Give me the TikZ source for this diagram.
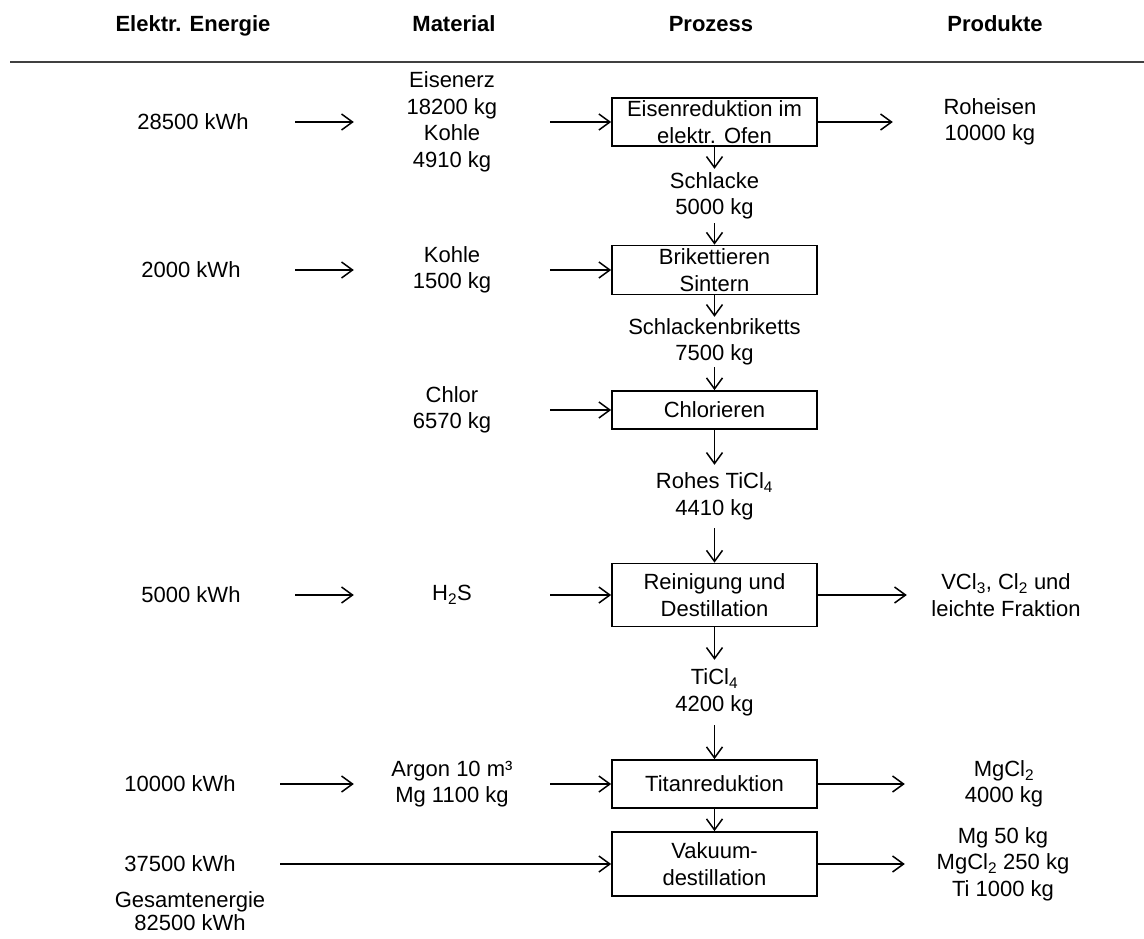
\documentclass[tikz,border=0pt]{standalone}
\usepackage{fontspec}
\setmainfont{Liberation Sans}
\usetikzlibrary{arrows.meta}
\newcommand\lsub[1]{\textsubscript{#1}}
\begin{document}
\begin{tikzpicture}[x=1pt,y=-1pt,
  txt/.style={font=\fontsize{22}{26.5}\selectfont, align=center, inner sep=0pt},
  hdr/.style={font=\fontsize{22}{26}\selectfont\bfseries, inner sep=0pt, anchor=base},
  proc/.style={txt, draw, line width=1.7pt, minimum width=205pt},
  mat/.style={txt, minimum width=196pt},
  prod/.style={txt, minimum width=196pt},
  arr/.style={line width=1.5pt, -{Straight Barb[length=11pt,width=16pt,line width=1.5pt]}}]
\useasboundingbox (0,0) rectangle (1144,938);

% header
\node[hdr] (h1) at (193,31) {Elektr. Energie};
\node[hdr] (h2) at (454,31) {Material};
\node[hdr] (h3) at (711,31) {Prozess};
\node[hdr] (h4) at (995,31) {Produkte};
\draw[line width=2.2pt, black!75] (10,62) -- (1144,62);

% row 1
\node[txt, minimum width=204pt] (e1) at (193,122) {28500 kWh};
\node[mat] (m1) at (452,122) {Eisenerz\\18200 kg\\Kohle\\4910 kg};
\node[proc, minimum height=48pt] (b1) at (714.5,122) {Eisenreduktion im\\elektr. Ofen};
\node[prod, minimum width=194pt] (p1) at (990,122) {Roheisen\\10000 kg};

\node[txt, minimum height=54pt] (t1) at (714.5,196) {Schlacke\\5000 kg};

% row 2
\node[txt, minimum width=208pt] (e2) at (191,270) {2000 kWh};
\node[mat] (m2) at (452,270) {Kohle\\1500 kg};
\node[proc, minimum height=49pt] (b2) at (714.5,270) {Brikettieren\\Sintern};

\node[txt, minimum height=50pt] (t2) at (714.5,342) {Schlackenbriketts\\7500 kg};

% row 3
\node[mat] (m3) at (452,410) {Chlor\\6570 kg};
\node[proc, minimum height=38pt] (b3) at (714.5,410) {Chlorieren};

\node[txt, minimum height=63pt] (t3) at (714.5,496.5) {Rohes TiCl\lsub{4}\\4410 kg};

% row 4
\node[txt, minimum width=208pt] (e4) at (191,595) {5000 kWh};
\node[mat] (m4) at (452,595) {H\lsub{2}S};
\node[proc, minimum height=63pt] (b4) at (714.5,595) {Reinigung und\\Destillation};
\node[prod, minimum width=198pt] (p4) at (1006,595) {VCl\lsub{3}, Cl\lsub{2} und\\leichte Fraktion};

\node[txt, minimum height=65pt] (t4) at (714.5,692.5) {TiCl\lsub{4}\\4200 kg};

% row 5
\node[txt, minimum width=200pt] (e5) at (180,784) {10000 kWh};
\node[mat] (m5) at (452,784) {Argon 10 m³\\Mg 1100 kg};
\node[proc, minimum height=48pt] (b5) at (714.5,784) {Titanreduktion};
\node[prod, minimum width=198pt] (p5) at (1004,784) {MgCl\lsub{2}\\4000 kg};

% row 6
\node[txt, minimum width=200pt] (e6) at (180,864) {37500 kWh};
\node[proc, minimum height=64pt] (b6) at (714.5,864) {Vakuum-\\destillation};
\node[prod] (p6) at (1003,864) {Mg 50 kg\\MgCl\lsub{2} 250 kg\\Ti 1000 kg};

\node[txt, font=\fontsize{22}{23.5}\selectfont] (g) at (190,911) {Gesamtenergie\\82500 kWh};

% horizontal arrows
\draw[arr] (e1.east) -- (m1.west);
\draw[arr] (m1.east) -- (b1.west);
\draw[arr] (b1.east) -- (p1.west);
\draw[arr] (e2.east) -- (m2.west);
\draw[arr] (m2.east) -- (b2.west);
\draw[arr] (m3.east) -- (b3.west);
\draw[arr] (e4.east) -- (m4.west);
\draw[arr] (m4.east) -- (b4.west);
\draw[arr] (b4.east) -- (p4.west);
\draw[arr] (e5.east) -- (m5.west);
\draw[arr] (m5.east) -- (b5.west);
\draw[arr] (b5.east) -- (p5.west);
\draw[arr] (e6.east) -- (b6.west);
\draw[arr] (b6.east) -- (p6.west);

% vertical arrows
\draw[arr] (b1.south) -- (t1.north);
\draw[arr] (t1.south) -- (b2.north);
\draw[arr] (b2.south) -- (t2.north);
\draw[arr] (t2.south) -- (b3.north);
\draw[arr] (b3.south) -- (t3.north);
\draw[arr] (t3.south) -- (b4.north);
\draw[arr] (b4.south) -- (t4.north);
\draw[arr] (t4.south) -- (b5.north);
\draw[arr] (b5.south) -- (b6.north);
\end{tikzpicture}
\end{document}
